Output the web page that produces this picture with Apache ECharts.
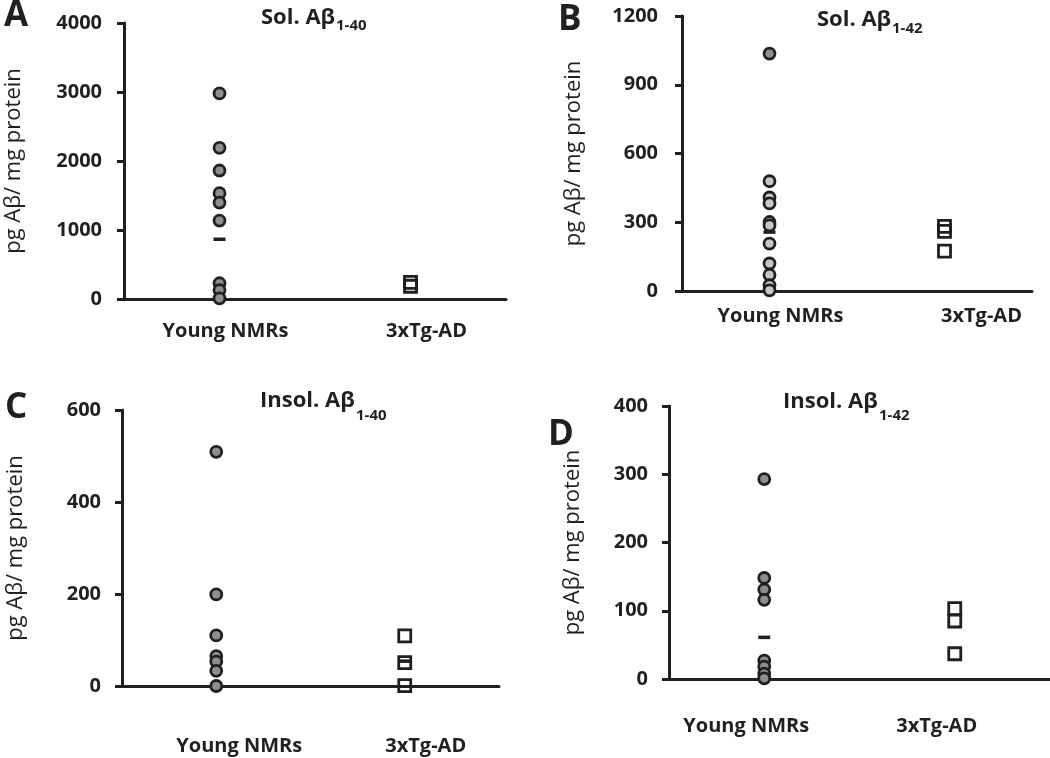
<!DOCTYPE html>
<html><head><meta charset="utf-8">
<script src="https://cdn.jsdelivr.net/npm/echarts@6/dist/echarts.min.js"></script>
<style>html,body{margin:0;padding:0;background:#fff}#c{width:1050px;height:758px}</style>
</head><body><div id="c"></div>
<script>
const categories = ['Young NMRs', '3xTg-AD'];
const yAxisName = 'pg Aβ/ mg protein';

// Panel A: Sol. Aβ1-40
const aTicksMax = 4000, aInterval = 1000;
const aYoung = [2979, 2191, 1862, 1533, 1397, 1137, 228, 130, 10];
const aTg = [240, 185];
const aMeanYoung = 866;

// Panel B: Sol. Aβ1-42
const bTicksMax = 1200, bInterval = 300;
const bYoung = [1036, 479, 408, 382, 301, 286, 207, 120, 70, 25, 3];
const bTg = [282, 260, 174];
const bMeanYoung = 257;

// Panel C: Insol. Aβ1-40
const cTicksMax = 600, cInterval = 200;
const cYoung = [509, 199, 110, 65, 53, 33, 0];
const cTg = [109, 51, 1];
const cMeanTg = 54;

// Panel D: Insol. Aβ1-42
const dTicksMax = 400, dInterval = 100;
const dYoung = [293, 148, 131, 116, 27, 18, 8, 1];
const dTg = [103, 85, 37];
const dMeanYoung = 61;

const INK = '#231f20';
const FONT = 'Open Sans';
const TITLE_SIZE = 22, SUB_SIZE = 15;

const panels = [
  {letter:'A', title:'Sol. Aβ', sub:'1-40', grid:{left:124, width:382, top:23, height:276},
   max:aTicksMax, interval:aInterval, young:aYoung, tg:aTg, meanYoung:aMeanYoung, meanTg:null,
   fill:'#8d8e90', labelShift:[6,16], labelMargin:22, nameGap:99, tickMargin:22,
   letterPos:{left:-1, top:-6}, titlePos:{left:256, top:2}, subTop:13},
  {letter:'B', title:'Sol. Aβ', sub:'1-42', grid:{left:682, width:350, top:16, height:275},
   max:bTicksMax, interval:bInterval, young:bYoung, tg:bTg, meanYoung:bMeanYoung, meanTg:null,
   fill:'#c6c7c9', darkFirst:true, labelShift:[11,37], labelMargin:15, nameGap:97, tickMargin:24,
   letterPos:{left:553, top:-2}, titlePos:{left:812, top:4}, subTop:16},
  {letter:'C', title:'Insol. Aβ', sub:'1-40', grid:{left:122, width:377, top:410, height:276},
   max:cTicksMax, interval:cInterval, young:cYoung, tg:cTg, meanYoung:null, meanTg:cMeanTg,
   fill:'#8d8e90', labelShift:[23,21], labelMargin:50, nameGap:95, tickMargin:21,
   letterPos:{left:0, top:386}, titlePos:{left:255, top:385}, subTop:403},
  {letter:'D', title:'Insol. Aβ', sub:'1-42', grid:{left:669, width:381, top:406, height:273},
   max:dTicksMax, interval:dInterval, young:dYoung, tg:dTg, meanYoung:dMeanYoung, meanTg:null,
   fill:'#8d8e90', labelShift:[-18,-18], labelMargin:37, nameGap:85, tickMargin:21,
   letterPos:{left:543, top:413}, titlePos:{left:778, top:386}, subTop:403}
];

const measureCtx = document.createElement('canvas').getContext('2d');
function textWidth(t, size){
  measureCtx.font = 'bold ' + size + 'px "' + FONT + '"';
  return measureCtx.measureText(t).width;
}
function shiftPad(dx){ return dx >= 0 ? [0,0,0,2*dx] : [0,-2*dx,0,0]; }

const option = {
  animation:false,
  backgroundColor:'#fff',
  title:[], grid:[], xAxis:[], yAxis:[], series:[]
};

panels.forEach((p, i) => {
  option.title.push({
    text:p.letter, left:p.letterPos.left, top:p.letterPos.top,
    textStyle:{fontFamily:FONT, fontWeight:'bold', fontSize:35, color:INK}
  });
  option.title.push({
    text:p.title, left:p.titlePos.left, top:p.titlePos.top,
    textStyle:{fontFamily:FONT, fontWeight:'bold', fontSize:TITLE_SIZE, color:INK}
  });
  option.title.push({
    text:p.sub, left:Math.round(p.titlePos.left + textWidth(p.title, TITLE_SIZE) + 1), top:p.subTop,
    textStyle:{fontFamily:FONT, fontWeight:'bold', fontSize:SUB_SIZE, color:INK}
  });
  option.grid.push(Object.assign({containLabel:false}, p.grid));
  option.xAxis.push({
    type:'category', gridIndex:i,
    data:categories.map((c, k) => ({value:c, textStyle:{padding:shiftPad(p.labelShift[k])}})),
    axisLine:{show:true, lineStyle:{color:INK, width:3, opacity:1}},
    axisTick:{show:false},
    axisLabel:{margin:p.labelMargin, fontFamily:FONT, fontWeight:'bold', fontSize:20, color:INK}
  });
  option.yAxis.push({
    type:'value', gridIndex:i, min:0, max:p.max, interval:p.interval,
    name:yAxisName, nameLocation:'middle', nameGap:p.nameGap, nameRotate:90,
    nameTextStyle:{fontFamily:FONT, fontSize:22, color:INK},
    axisLine:{show:true, lineStyle:{color:INK, width:3, opacity:1}},
    axisTick:{show:true, inside:false, length:7, lineStyle:{color:INK, width:3, opacity:1}},
    splitLine:{show:false},
    axisLabel:{margin:p.tickMargin, fontFamily:FONT, fontWeight:'bold', fontSize:20, color:INK,
      formatter:v => String(v)}
  });
  option.series.push({
    type:'scatter', xAxisIndex:i, yAxisIndex:i, clip:false, z:3,
    symbol:'circle', symbolSize:11,
    itemStyle:{color:p.fill, borderColor:INK, borderWidth:2.8, opacity:1},
    data:p.young.map((v, k) => (p.darkFirst && k === 0)
      ? {value:[categories[0], v], itemStyle:{color:'#8d8e90'}}
      : [categories[0], v])
  });
  option.series.push({
    type:'scatter', xAxisIndex:i, yAxisIndex:i, clip:false, z:3,
    symbol:'rect', symbolSize:12,
    itemStyle:{color:'rgba(255,255,255,0)', borderColor:INK, borderWidth:2.8, opacity:1},
    data:p.tg.map(v => [categories[1], v])
  });
  const means = [];
  if (p.meanYoung != null) means.push([categories[0], p.meanYoung]);
  if (p.meanTg != null) means.push([categories[1], p.meanTg]);
  option.series.push({
    type:'scatter', xAxisIndex:i, yAxisIndex:i, clip:false, z:2,
    symbol:'rect', symbolSize:[12,3.5],
    itemStyle:{color:INK, opacity:1},
    data:means
  });
});

const chart = echarts.init(document.getElementById('c'), null, {renderer:'canvas'});
chart.setOption(option);
</script></body></html>
